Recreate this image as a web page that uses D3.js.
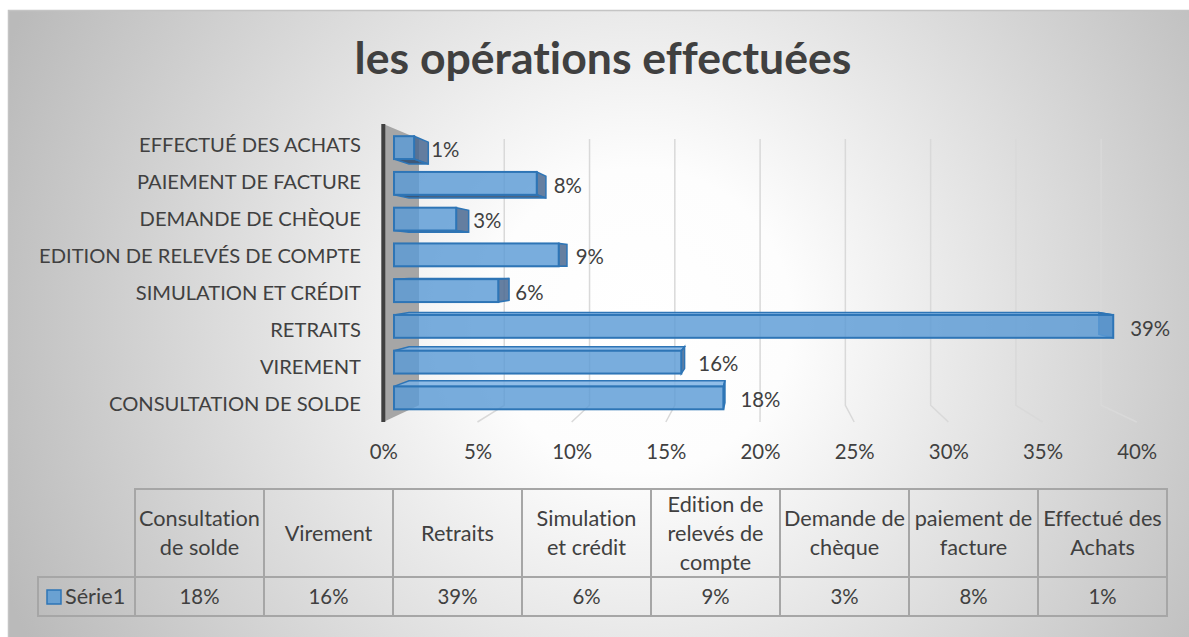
<!DOCTYPE html>
<html lang="fr">
<head>
<meta charset="UTF-8">
<title>les opérations effectuées</title>
<style>
  body { margin: 0; background: #fff; }
  text { font-family: Lato, "Open Sans", sans-serif; fill: #404040; font-variant-ligatures: none; }
</style>
</head>
<body>
<script src="https://d3js.org/d3.v7.min.js"></script>
<script>
var title = "les opérations effectuées";
var categories = ["Consultation de solde", "Virement", "Retraits", "Simulation et crédit",
  "Edition de relevés de compte", "Demande de chèque", "paiement de facture", "Effectué des Achats"];
var values = [0.18, 0.157, 0.393, 0.057, 0.09, 0.034, 0.078, 0.011];
var tableHeaders = [["Consultation", "de solde"], ["Virement"], ["Retraits"], ["Simulation", "et crédit"],
  ["Edition de", "relevés de", "compte"], ["Demande de", "chèque"], ["paiement de", "facture"], ["Effectué des", "Achats"]];
var seriesName = "Série1";
var xTicks = [0, 0.05, 0.1, 0.15, 0.2, 0.25, 0.3, 0.35, 0.4];

var W = 1189, H = 637;
var fmt = d3.format(".0%");
var data = categories.map(function (c, i) { return { cat: c, v: values[i] }; });

var svg = d3.select("body").append("svg").attr("width", W).attr("height", H);

// fond dégradé radial
var defs = svg.append("defs");
var grad = defs.append("radialGradient").attr("id", "bg")
  .attr("gradientUnits", "userSpaceOnUse")
  .attr("cx", 640).attr("cy", 320).attr("r", 690);
grad.append("stop").attr("offset", 0).attr("stop-color", "#ffffff");
grad.append("stop").attr("offset", 0.22).attr("stop-color", "#fdfdfd");
grad.append("stop").attr("offset", 1).attr("stop-color", "#bababa");
svg.append("rect").attr("x", 8.5).attr("y", 10.5).attr("width", W).attr("height", H)
  .attr("fill", "url(#bg)").attr("stroke", "#c4c4c4").attr("stroke-width", 1.5);

// taille des polices ajustée à la largeur mesurée
function fitSize(txt, weight, target) {
  var t = svg.append("text").attr("font-size", 100).attr("font-weight", weight).text(txt);
  var w = t.node().getComputedTextLength();
  t.remove();
  return 100 * target / w;
}
var fsCaps = fitSize("EFFECTUÉ DES ACHATS", 400, 222);
var fs = fitSize("Consultation", 400, 121);
var fsNum = fitSize("39%", 400, 40);
var titleFs = fitSize(title, 700, 497);

svg.append("text").attr("x", 603).attr("y", 58).attr("dy", "0.35em")
  .attr("text-anchor", "middle").attr("font-size", titleFs).attr("font-weight", 700)
  .text(title);

// échelles (plan avant) + perspective
var x = d3.scaleLinear().domain([0, 0.4]).range([383.3, 1136.7]);
var y = d3.scaleBand().domain(categories.slice().reverse()).range([124, 422])
  .paddingInner(0.36).paddingOuter(0.215);
var bw = y.bandwidth();
var cx = 761, cy = 265, kxBack = 0.9055, kyBack = 0.8935;
var tF = 0.3, tB = 0.72;
function proj(v, yy, t) {
  var kx = 1 - t * (1 - kxBack), ky = 1 - t * (1 - kyBack);
  return [cx + (x(v) - cx) * kx, cy + (yy - cy) * ky];
}
function poly(pts) { return "M" + pts.map(function (p) { return p.join(","); }).join("L") + "Z"; }

// quadrillage (mur du fond + sol)
svg.append("g").selectAll("path").data(xTicks.filter(function (d) { return d > 0; }))
  .enter().append("path")
  .attr("d", function (d) {
    return "M" + proj(d, 124, 1) + "L" + proj(d, 422, 1) + "L" + proj(d, 422, 0);
  })
  .attr("fill", "none").attr("stroke", "#d9d9d9").attr("stroke-width", 1.5);

// mur latéral
svg.append("path")
  .attr("d", poly([proj(0, 124, 0), proj(0, 124, 1), proj(0, 422, 1), proj(0, 422, 0)]))
  .attr("fill", "#a6a6a6");
svg.append("line")
  .attr("x1", proj(0, 124, 0)[0]).attr("y1", 124)
  .attr("x2", proj(0, 422, 0)[0]).attr("y2", 422)
  .attr("stroke", "#404040").attr("stroke-width", 4);

// barres 3D
var bars = svg.append("g").selectAll("g").data(data).enter().append("g");
bars.each(function (d) {
  var g = d3.select(this);
  var y0 = y(d.cat), y1 = y0 + bw;
  var under = (y0 + y1) / 2 < cy;
  var yy = under ? y1 : y0;
  g.append("path")
    .attr("d", poly([proj(0, yy, tF), proj(d.v, yy, tF), proj(d.v, yy, tB), proj(0, yy, tB)]))
    .attr("fill", under ? "#2c4a70" : "#7cb2e4").attr("fill-opacity", 0.85)
    .attr("stroke", "#2e75b6").attr("stroke-width", 1.5);
  g.append("path")
    .attr("d", poly([proj(d.v, y0, tF), proj(d.v, y1, tF), proj(d.v, y1, tB), proj(d.v, y0, tB)]))
    .attr("fill", "#4a6890").attr("fill-opacity", 0.85)
    .attr("stroke", "#2e75b6").attr("stroke-width", 1.5);
  var a = proj(0, y0, tF), b = proj(d.v, y1, tF);
  g.append("rect").attr("x", a[0]).attr("y", a[1]).attr("width", b[0] - a[0]).attr("height", b[1] - a[1])
    .attr("fill", "#5b9bd5").attr("fill-opacity", 0.82)
    .attr("stroke", "#2e75b6").attr("stroke-width", 2);
  var lp = proj(d.v, y0 + bw / 2, tF);
  g.append("text").attr("x", lp[0] + 17).attr("y", lp[1] + 2).attr("dy", "0.35em")
    .attr("font-size", fsNum).text(fmt(d.v));
});

// étiquettes des catégories
svg.append("g").selectAll("text").data(categories).enter().append("text")
  .attr("x", 361).attr("y", function (d) { return y(d) + bw / 2 + 1.5; })
  .attr("dy", "0.35em").attr("text-anchor", "end").attr("font-size", fsCaps)
  .text(function (d) { return d.toUpperCase(); });

// axe horizontal
var axis = d3.axisBottom(x).tickValues(xTicks).tickFormat(fmt).tickSize(0).tickPadding(0);
var gAxis = svg.append("g").attr("transform", "translate(0,452)").call(axis);
gAxis.select(".domain").remove();
gAxis.selectAll("text").attr("font-size", fsNum).attr("dy", "0.35em").attr("y", 0)
  .style("font-family", "Lato, 'Open Sans', sans-serif").attr("fill", "#404040");

// table de données
var col = d3.scaleBand().domain(categories).range([135, 1167]);
var tTop = 489, tMid = 577, tBot = 616, tLeft = 38;
var tab = svg.append("g").attr("stroke", "#a6a6a6").attr("stroke-width", 2).attr("fill", "none");
tab.selectAll("rect.h").data(categories).enter().append("rect")
  .attr("x", function (d) { return col(d); }).attr("y", tTop)
  .attr("width", col.bandwidth()).attr("height", tMid - tTop);
tab.selectAll("rect.v").data(categories).enter().append("rect")
  .attr("x", function (d) { return col(d); }).attr("y", tMid)
  .attr("width", col.bandwidth()).attr("height", tBot - tMid);
tab.append("rect").attr("x", tLeft).attr("y", tMid).attr("width", 135 - tLeft).attr("height", tBot - tMid);

var lh = 29;
svg.append("g").selectAll("text").data(tableHeaders).enter().append("text")
  .attr("text-anchor", "middle").attr("font-size", fs)
  .each(function (lines, i) {
    var t = d3.select(this);
    var cxx = col(categories[i]) + col.bandwidth() / 2;
    lines.forEach(function (l, j) {
      t.append("tspan").attr("x", cxx)
        .attr("y", (tTop + tMid) / 2 + (j - (lines.length - 1) / 2) * lh)
        .attr("dy", "0.35em").text(l);
    });
  });
svg.append("g").selectAll("text").data(data).enter().append("text")
  .attr("x", function (d) { return col(d.cat) + col.bandwidth() / 2; })
  .attr("y", (tMid + tBot) / 2).attr("dy", "0.35em")
  .attr("text-anchor", "middle").attr("font-size", fsNum)
  .text(function (d) { return fmt(d.v); });

svg.append("rect").attr("x", 47).attr("y", 590).attr("width", 14).attr("height", 14)
  .attr("fill", "#5b9bd5").attr("fill-opacity", 0.85).attr("stroke", "#2e75b6").attr("stroke-width", 1.5);
svg.append("text").attr("x", 65).attr("y", (tMid + tBot) / 2).attr("dy", "0.35em")
  .attr("font-size", fs).text(seriesName);
</script>
</body>
</html>
